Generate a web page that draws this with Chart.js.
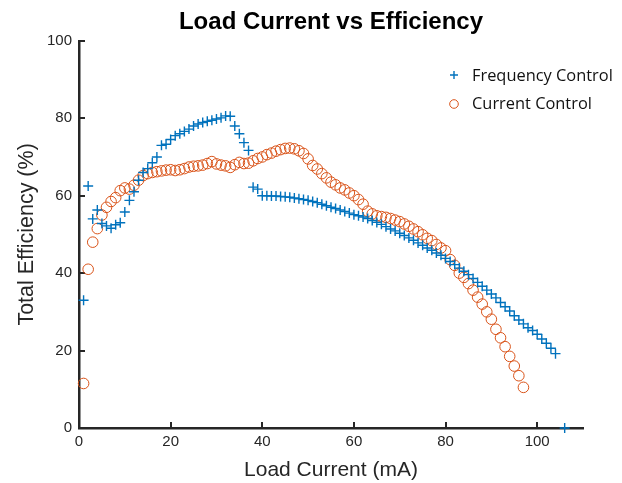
<!DOCTYPE html>
<html>
<head>
<meta charset="utf-8">
<script src="https://cdn.jsdelivr.net/npm/chart.js@4.4.1/dist/chart.umd.min.js"></script>
<style>
  html, body { margin: 0; padding: 0; background: #fff; }
</style>
</head>
<body>
<canvas id="chart" width="622" height="483"></canvas>
<script>
// Frequency Control (blue +)
const freqCurrent = [1,2,3,4,5,6,7,8,9,10,11,12,13,14,15,16,17,18,19,20,21,22,23,24,25,26,27,28,29,30,
  31,32,33,34,35,36,37,38,39,40,41,42,43,44,45,46,47,48,49,50,51,52,53,54,55,56,57,58,59,60,
  61,62,63,64,65,66,67,68,69,70,71,72,73,74,75,76,77,78,79,80,81,82,83,84,85,86,87,88,89,90,
  91,92,93,94,95,96,97,98,99,100,101,102,103,104,106];
const freqEfficiency = [33,62.5,54,56.3,52.8,52.2,51.6,52.5,53,55.8,58.8,61,64,66,67,68.5,70,73,73.3,74.5,
  75.5,76,76.6,77.2,78,78.5,78.9,79.2,79.5,79.8,80.1,80.6,80.5,78,76,73.7,71.7,62.2,61.7,60,
  60,59.9,59.9,59.8,59.7,59.6,59.4,59.2,59,58.8,58.5,58.2,57.8,57.4,57,56.7,56.3,55.9,55.5,55.1,
  54.8,54.5,54.1,53.6,53.1,52.6,52,51.4,50.9,50.3,49.7,49.1,48.5,47.8,47.2,46.5,45.9,45.2,44.6,43.8,
  43,42.2,41.3,40.5,39.6,38.6,37.6,36.6,35.6,34.6,33.6,32.4,31.3,30.2,29,27.9,26.9,25.9,25.2,24.2,
  23,21.9,20.6,19.2,0];

// Current Control (orange o)
const currCurrent = [1,2,3,4,5,6,7,8,9,10,11,12,13,14,15,16,17,18,19,20,21,22,23,24,25,26,27,28,29,30,
  31,32,33,34,35,36,37,38,39,40,41,42,43,44,45,46,47,48,49,50,51,52,53,54,55,56,57,58,59,60,
  61,62,63,64,65,66,67,68,69,70,71,72,73,74,75,76,77,78,79,80,81,82,83,84,85,86,87,88,89,90,
  91,92,93,94,95,96,97];
const currEfficiency = [11.5,41,48,51.5,55,57,58.5,59.5,61.3,62,61.7,62.7,64,65.2,65.7,66,66.2,66.4,66.6,66.7,
  66.5,66.7,67,67.4,67.6,67.7,67.9,68.3,68.8,68.2,67.9,67.7,67.3,68,68.6,68.3,68.4,69,69.6,70,
  70.6,71,71.5,71.9,72.2,72.3,72.1,71.6,70.9,69.5,67.8,66.9,65.7,64.6,63.5,62.8,62,61.5,60.7,60,
  59,57.8,56,55.3,54.8,54.6,54.4,54.1,53.7,53.3,52.7,52.1,51.4,50.7,49.9,49,48.4,47.4,46.5,45.8,
  43.5,42,40,38.9,37.3,35.6,33.8,32,30,28.1,25.5,23.3,21,18.5,16,13.5,10.5];

const xTicks = [0, 20, 40, 60, 80, 100];
const yTicks = [0, 20, 40, 60, 80, 100];

const blue = '#0072BD';
const orange = '#D95319';
const axisColor = '#262626';
const sans = '"Liberation Sans", Arial, sans-serif';

function pairs(xs, ys) {
  return xs.map((x, i) => ({ x: x, y: ys[i] }));
}

// short tick marks pointing into the plot
const inwardTicks = {
  id: 'inwardTicks',
  beforeDatasetsDraw(chart) {
    const ctx = chart.ctx;
    const xs = chart.scales.x, ys = chart.scales.y;
    const area = chart.chartArea;
    ctx.save();
    ctx.strokeStyle = axisColor;
    ctx.lineWidth = 2;
    ctx.beginPath();
    xTicks.forEach(v => {
      const px = Math.round(xs.getPixelForValue(v));
      ctx.moveTo(px, area.bottom);
      ctx.lineTo(px, area.bottom - 6);
    });
    yTicks.forEach(v => {
      const py = Math.round(ys.getPixelForValue(v));
      ctx.moveTo(area.left, py);
      ctx.lineTo(area.left + 6, py);
    });
    ctx.stroke();
    ctx.restore();
  }
};

// legend in the upper right
const cornerLegend = {
  id: 'cornerLegend',
  afterDraw(chart) {
    const ctx = chart.ctx;
    ctx.save();
    ctx.font = '16.4px "Open Sans", "Noto Sans", sans-serif';
    ctx.textBaseline = 'middle';
    ctx.fillStyle = '#111';
    chart.data.datasets.forEach((ds, i) => {
      const mx = 454, my = 75 + i * 28;
      ctx.strokeStyle = ds.borderColor;
      ctx.lineWidth = ds.borderWidth;
      ctx.beginPath();
      if (ds.pointStyle === 'cross') {
        ctx.moveTo(mx - 4, my); ctx.lineTo(mx + 4, my);
        ctx.moveTo(mx, my - 4); ctx.lineTo(mx, my + 4);
      } else {
        ctx.arc(mx, my + 1, 4.3, 0, Math.PI * 2);
      }
      ctx.stroke();
      ctx.fillText(ds.label, 472, my + 1);
    });
    ctx.restore();
  }
};

new Chart(document.getElementById('chart'), {
  type: 'scatter',
  data: {
    datasets: [
      {
        label: 'Frequency Control',
        data: pairs(freqCurrent, freqEfficiency),
        pointStyle: 'cross',
        pointRadius: 5,
        borderColor: blue,
        backgroundColor: blue,
        borderWidth: 1.4,
        clip: false
      },
      {
        label: 'Current Control',
        data: pairs(currCurrent, currEfficiency),
        pointStyle: 'circle',
        pointRadius: 5.3,
        borderColor: orange,
        backgroundColor: 'rgba(0,0,0,0)',
        borderWidth: 1,
        clip: false
      }
    ]
  },
  options: {
    responsive: false,
    animation: false,
    layout: { padding: { left: 0, right: 39, top: 0, bottom: 0 } },
    plugins: {
      legend: { display: false },
      tooltip: { enabled: false },
      title: {
        display: true,
        fullSize: false,
        text: 'Load Current vs Efficiency',
        color: '#000',
        font: { family: sans, size: 24, weight: 'bold' },
        padding: { top: 8, bottom: 4 }
      }
    },
    scales: {
      x: {
        type: 'linear',
        min: 0,
        max: 110,
        grid: { display: false, drawTicks: false },
        border: { display: true, color: axisColor, width: 2.5 },
        afterBuildTicks: s => { s.ticks = xTicks.map(v => ({ value: v })); },
        afterFit: s => { s.height = 55; },
        ticks: {
          color: axisColor,
          padding: 5,
          maxRotation: 0,
          font: { family: sans, size: 15 }
        },
        title: {
          display: true,
          text: 'Load Current (mA)',
          color: axisColor,
          padding: { top: 1, bottom: 0 },
          font: { family: sans, size: 21 }
        }
      },
      y: {
        type: 'linear',
        min: 0,
        max: 100,
        grid: { display: false, drawTicks: false },
        border: { display: true, color: axisColor, width: 2.5 },
        afterBuildTicks: s => { s.ticks = yTicks.map(v => ({ value: v })); },
        afterFit: s => { s.width = 79; },
        ticks: {
          color: axisColor,
          padding: 7,
          font: { family: sans, size: 15 }
        },
        title: {
          display: true,
          text: 'Total Efficiency (%)',
          color: axisColor,
          padding: { top: 14, bottom: 0 },
          font: { family: sans, size: 21.5 }
        }
      }
    }
  },
  plugins: [inwardTicks, cornerLegend]
});
</script>
</body>
</html>
